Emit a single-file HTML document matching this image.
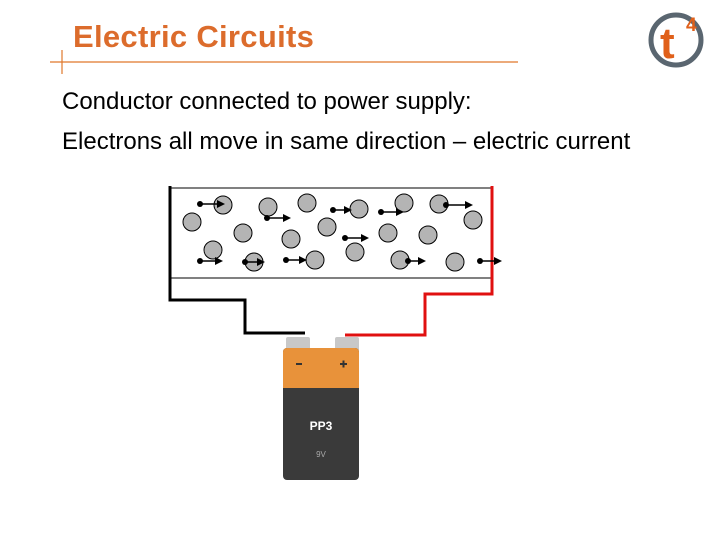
<!DOCTYPE html>
<html><head><style>
body{margin:0;width:720px;height:540px;background:#fff;overflow:hidden;position:relative;font-family:"Liberation Sans",sans-serif}
.t{position:absolute;left:73px;top:19px;font-size:31px;font-weight:bold;color:#DC6C2C;line-height:36px;letter-spacing:0.3px}
.p{position:absolute;left:62px;font-size:24px;color:#000;line-height:28px}
</style></head><body>
<div class="t">Electric Circuits</div>
<div class="p" style="top:88px">Conductor connected to power supply:</div>
<div class="p" style="top:128px">Electrons all move in same direction – electric current</div>
<svg width="720" height="540" style="position:absolute;left:0;top:0">
<line x1="50" y1="62" x2="518" y2="62" stroke="#E0782A" stroke-width="1.2"/>
<line x1="62" y1="50" x2="62" y2="74" stroke="#E0782A" stroke-width="1.2"/>
<circle cx="676" cy="40" r="25" fill="none" stroke="#5a6670" stroke-width="5"/>
<text x="660" y="58" font-size="44" font-weight="bold" fill="#E0601A" font-family="Liberation Sans">t</text>
<text x="686" y="31" font-size="19" font-weight="bold" fill="#E0601A" font-family="Liberation Sans">4</text>
<line x1="170" y1="188" x2="492" y2="188" stroke="#000" stroke-width="1"/>
<line x1="170" y1="278" x2="492" y2="278" stroke="#000" stroke-width="1"/>
<polyline points="170,186 170,300 245,300 245,333 305,333" fill="none" stroke="#000" stroke-width="3"/>
<polyline points="492,186 492,294 425,294 425,335 345,335" fill="none" stroke="#e01010" stroke-width="3"/>
<g fill="#b4b4b4" stroke="#000" stroke-width="1">
<circle cx="223" cy="205" r="9"/><circle cx="192" cy="222" r="9"/><circle cx="268" cy="207" r="9"/><circle cx="307" cy="203" r="9"/><circle cx="359" cy="209" r="9"/><circle cx="404" cy="203" r="9"/><circle cx="439" cy="204" r="9"/><circle cx="473" cy="220" r="9"/><circle cx="243" cy="233" r="9"/><circle cx="291" cy="239" r="9"/><circle cx="327" cy="227" r="9"/><circle cx="355" cy="252" r="9"/><circle cx="388" cy="233" r="9"/><circle cx="428" cy="235" r="9"/><circle cx="213" cy="250" r="9"/><circle cx="254" cy="262" r="9"/><circle cx="315" cy="260" r="9"/><circle cx="400" cy="260" r="9"/><circle cx="455" cy="262" r="9"/>
</g>
<g stroke="#000" stroke-width="1.5">
<line x1="200" y1="204" x2="218" y2="204"/><line x1="267" y1="218" x2="284" y2="218"/><line x1="333" y1="210" x2="345" y2="210"/><line x1="381" y1="212" x2="397" y2="212"/><line x1="446" y1="205" x2="466" y2="205"/><line x1="200" y1="261" x2="216" y2="261"/><line x1="245" y1="262" x2="258" y2="262"/><line x1="286" y1="260" x2="300" y2="260"/><line x1="345" y1="238" x2="362" y2="238"/><line x1="408" y1="261" x2="419" y2="261"/><line x1="480" y1="261" x2="495" y2="261"/>
</g>
<g fill="#000">
<circle cx="200" cy="204" r="3"/><circle cx="267" cy="218" r="3"/><circle cx="333" cy="210" r="3"/><circle cx="381" cy="212" r="3"/><circle cx="446" cy="205" r="3"/><circle cx="200" cy="261" r="3"/><circle cx="245" cy="262" r="3"/><circle cx="286" cy="260" r="3"/><circle cx="345" cy="238" r="3"/><circle cx="408" cy="261" r="3"/><circle cx="480" cy="261" r="3"/>
<polygon points="225,204 217,200 217,208"/><polygon points="291,218 283,214 283,222"/><polygon points="352,210 344,206 344,214"/><polygon points="404,212 396,208 396,216"/><polygon points="473,205 465,201 465,209"/><polygon points="223,261 215,257 215,265"/><polygon points="265,262 257,258 257,266"/><polygon points="307,260 299,256 299,264"/><polygon points="369,238 361,234 361,242"/><polygon points="426,261 418,257 418,265"/><polygon points="502,261 494,257 494,265"/>
</g>
<rect x="286" y="337" width="24" height="14" rx="2" fill="#c8c8c8"/>
<rect x="335" y="337" width="24" height="14" rx="2" fill="#c8c8c8"/>
<rect x="283" y="348" width="76" height="132" rx="4" fill="#3a3a3a"/>
<path d="M283,352 a4,4 0 0 1 4,-4 h68 a4,4 0 0 1 4,4 v36 h-76z" fill="#e8923a"/>
<rect x="296" y="363" width="6" height="2" fill="#333"/>
<rect x="340" y="363" width="7" height="2" fill="#333"/>
<rect x="342.5" y="360.5" width="2" height="7" fill="#333"/>
<text x="321" y="430" font-size="12" font-weight="bold" fill="#fff" text-anchor="middle" font-family="Liberation Sans">PP3</text>
<text x="321" y="457" font-size="8" fill="#aaa" text-anchor="middle" font-family="Liberation Sans">9V</text>
</svg>
</body></html>
